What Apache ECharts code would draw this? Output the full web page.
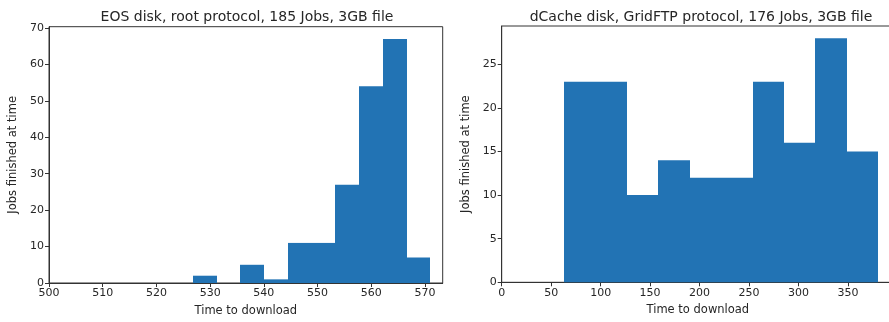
<!DOCTYPE html>
<html>
<head>
<meta charset="utf-8">
<script src="https://cdn.jsdelivr.net/npm/echarts@6/dist/echarts.min.js"></script>
<style>
  html, body { margin: 0; padding: 0; background: #fff; }
  #chart { width: 889px; height: 322px; }
</style>
</head>
<body>
<div id="chart"></div>
<script>
// EOS disk, root protocol: histogram bin edges and counts
const eosEdges = [526.8, 531.2, 535.6, 540.1, 544.5, 548.9, 553.3, 557.7, 562.2, 566.6, 571.0];
const eosCounts = [2, 0, 5, 1, 11, 11, 27, 54, 67, 7];

// dCache disk, GridFTP protocol: histogram bin edges and counts
const dcacheEdges = [63.0, 94.8, 126.5, 158.3, 190.0, 221.8, 253.6, 285.3, 317.1, 348.8, 380.6];
const dcacheCounts = [23, 23, 10, 14, 12, 12, 23, 16, 28, 15];

// Tick values
const eosXTicks = [500, 510, 520, 530, 540, 550, 560, 570];
const eosYTicks = [0, 10, 20, 30, 40, 50, 60, 70];
const dcacheXTicks = [0, 50, 100, 150, 200, 250, 300, 350];
const dcacheYTicks = [0, 5, 10, 15, 20, 25];

const titles = [
  'EOS disk, root protocol, 185 Jobs, 3GB file',
  'dCache disk, GridFTP protocol, 176 Jobs, 3GB file'
];
const xName = 'Time to download';
const yName = 'Jobs finished at time';

const FONT = 'DejaVu Sans';
const TEXT = '#262626';
const SPINE = '#333333';
const BAR = '#2273b4';

function binsToData(edges, counts) {
  return counts.map((c, i) => [edges[i], edges[i + 1], c]);
}

// One rectangle per non-empty bin; x edges snapped to whole pixels so
// neighbouring bins meet without a hairline gap
function renderBin(params, api) {
  const lo = api.value(0), hi = api.value(1), c = api.value(2);
  if (!c) return null;
  const p0 = api.coord([lo, 0]);
  const p1 = api.coord([hi, c]);
  const x0 = Math.round(p0[0]), x1 = Math.round(p1[0]);
  return {
    type: 'rect',
    shape: { x: x0, y: p1[1], width: x1 - x0, height: p0[1] - p1[1] },
    style: { fill: BAR }
  };
}

function xAxis(gridIndex, min, max, ticks) {
  return {
    type: 'value', gridIndex, min, max,
    name: xName, nameLocation: 'middle', nameGap: 22,
    nameTextStyle: { fontFamily: FONT, fontSize: 11.5, color: TEXT },
    axisLine: { show: true, onZero: false, lineStyle: { color: SPINE, width: 1 } },
    axisTick: { show: true, length: 4, customValues: ticks, lineStyle: { color: SPINE } },
    axisLabel: { customValues: ticks, fontFamily: FONT, fontSize: 11, color: TEXT, margin: 5 },
    splitLine: { show: false }
  };
}

function yAxis(gridIndex, max, ticks) {
  return {
    type: 'value', gridIndex, min: 0, max,
    name: yName, nameLocation: 'middle', nameGap: 30, nameRotate: 90,
    nameTextStyle: { fontFamily: FONT, fontSize: 11.5, color: TEXT },
    axisLine: { show: true, lineStyle: { color: SPINE, width: 1 } },
    axisTick: { show: true, length: 4, customValues: ticks, lineStyle: { color: SPINE } },
    axisLabel: { customValues: ticks, fontFamily: FONT, fontSize: 11, color: TEXT, margin: 5 },
    splitLine: { show: false }
  };
}

const chart = echarts.init(document.getElementById('chart'), null, { renderer: 'canvas' });

chart.setOption({
  animation: false,
  backgroundColor: '#ffffff',
  title: [
    { text: titles[0], left: 242, top: 5, textAlign: 'center',
      textStyle: { fontFamily: FONT, fontSize: 14, fontWeight: 'normal', color: TEXT } },
    { text: titles[1], left: 696, top: 5, textAlign: 'center',
      textStyle: { fontFamily: FONT, fontSize: 14, fontWeight: 'normal', color: TEXT } }
  ],
  grid: [
    { left: 49, top: 26.7, width: 393.7, height: 256.3, show: true, outerBoundsMode: 'none',
      containLabel: false, borderColor: SPINE, borderWidth: 1, backgroundColor: 'transparent' },
    { left: 501.7, top: 26, width: 392.3, height: 256.3, show: true, outerBoundsMode: 'none',
      containLabel: false, borderColor: SPINE, borderWidth: 1, backgroundColor: 'transparent' }
  ],
  xAxis: [
    xAxis(0, 500, 573.3, eosXTicks),
    xAxis(1, 0, 396.5, dcacheXTicks)
  ],
  yAxis: [
    yAxis(0, 70.35, eosYTicks),
    yAxis(1, 29.4, dcacheYTicks)
  ],
  series: [
    { type: 'custom', xAxisIndex: 0, yAxisIndex: 0, renderItem: renderBin,
      encode: { x: [0, 1], y: 2 }, data: binsToData(eosEdges, eosCounts), silent: true },
    { type: 'custom', xAxisIndex: 1, yAxisIndex: 1, renderItem: renderBin,
      encode: { x: [0, 1], y: 2 }, data: binsToData(dcacheEdges, dcacheCounts), silent: true }
  ]
});
</script>
</body>
</html>
